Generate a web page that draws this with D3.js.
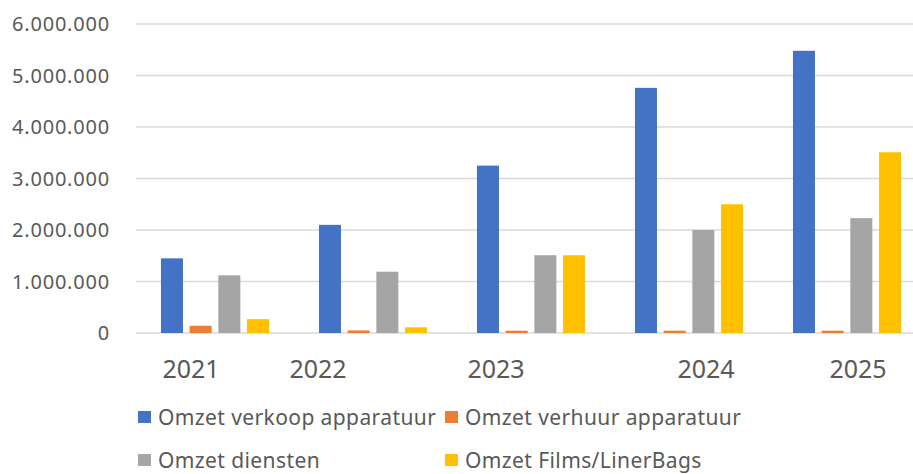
<!DOCTYPE html>
<html>
<head>
<meta charset="utf-8">
<script src="https://cdn.jsdelivr.net/npm/d3@7"></script>
<style>
  body { margin: 0; background: #fff; }
  text { font-family: "Noto Sans", sans-serif; fill: #595959; }
</style>
</head>
<body>
<svg id="graph" width="913" height="474"></svg>
<script>
  var years = ["2021", "2022", "2023", "2024", "2025"];
  var seriesNames = ["Omzet verkoop apparatuur", "Omzet verhuur apparatuur", "Omzet diensten", "Omzet Films/LinerBags"];
  var verkoop = [1450000, 2100000, 3250000, 4760000, 5480000];
  var verhuur = [140000, 50000, 45000, 45000, 45000];
  var diensten = [1120000, 1190000, 1510000, 2000000, 2230000];
  var films = [270000, 110000, 1510000, 2500000, 3510000];
  var yTicks = [0, 1000000, 2000000, 3000000, 4000000, 5000000, 6000000];

  var colors = ["#4472C4", "#ED7D31", "#A5A5A5", "#FFC000"];
  // year labels sit a bit off the group centres in the original
  var labelNudge = [-24, -55, -35, 17, 11];

  var svg = d3.select("#graph");
  var values = [verkoop, verhuur, diensten, films];

  // x scale for year groups (plot runs past the right edge, like the cropped original)
  var x0 = d3.scaleBand().domain(years).range([136, 926]);
  var x1 = d3.scaleBand().domain(seriesNames).range([0, x0.bandwidth()])
      .paddingInner(0.233).paddingOuter(0.87);
  var y = d3.scaleLinear().domain([0, 6000000]).range([333, 24]);

  var fmt = function(v) { return v.toString().replace(/(\d)(?=(\d{3})+(?!\d))/g, '$1.'); };

  // gridlines
  svg.append("g").selectAll("line").data(yTicks).enter().append("line")
    .attr("x1", 136).attr("x2", 913)
    .attr("y1", function(d) { return y(d); })
    .attr("y2", function(d) { return y(d); })
    .attr("stroke", "#D9D9D9")
    .attr("stroke-width", 1.5);

  // y labels
  svg.append("g").selectAll("text").data(yTicks).enter().append("text")
    .attr("x", 110)
    .attr("y", function(d) { return y(d); })
    .attr("dy", "0.36em")
    .attr("text-anchor", "end")
    .style("font-size", "20px")
    .style("letter-spacing", "0.8px")
    .text(fmt);

  // bars
  var groups = svg.append("g").selectAll("g").data(years).enter().append("g")
    .attr("transform", function(d) { return "translate(" + x0(d) + ",0)"; });

  groups.selectAll("rect").data(function(d, i) {
      return seriesNames.map(function(s, j) { return {key: s, value: values[j][i], idx: j}; });
    }).enter().append("rect")
    .attr("x", function(d) { return x1(d.key); })
    .attr("y", function(d) { return y(d.value); })
    .attr("width", x1.bandwidth())
    .attr("height", function(d) { return y(0) - y(d.value); })
    .attr("fill", function(d) { return colors[d.idx]; });

  // year labels
  svg.append("g").selectAll("text").data(years).enter().append("text")
    .attr("x", function(d, i) { return x0(d) + x0.bandwidth() / 2 + labelNudge[i]; })
    .attr("y", 378)
    .attr("text-anchor", "middle")
    .style("font-size", "25px")
    .text(function(d) { return d; });

  // legend, two rows of two
  var legend = svg.append("g").selectAll("g").data(seriesNames).enter().append("g")
    .attr("transform", function(d, i) {
      return "translate(" + (i % 2 == 0 ? 138 : 445) + "," + (i < 2 ? 417 : 460) + ")";
    });
  legend.append("rect")
    .attr("x", 0).attr("y", -6)
    .attr("width", 13).attr("height", 12)
    .attr("fill", function(d, i) { return colors[i]; });
  legend.append("text")
    .attr("x", 20)
    .attr("dy", "0.36em")
    .style("font-size", "21px")
    .style("letter-spacing", "0.4px")
    .text(function(d) { return d; });
</script>
</body>
</html>
